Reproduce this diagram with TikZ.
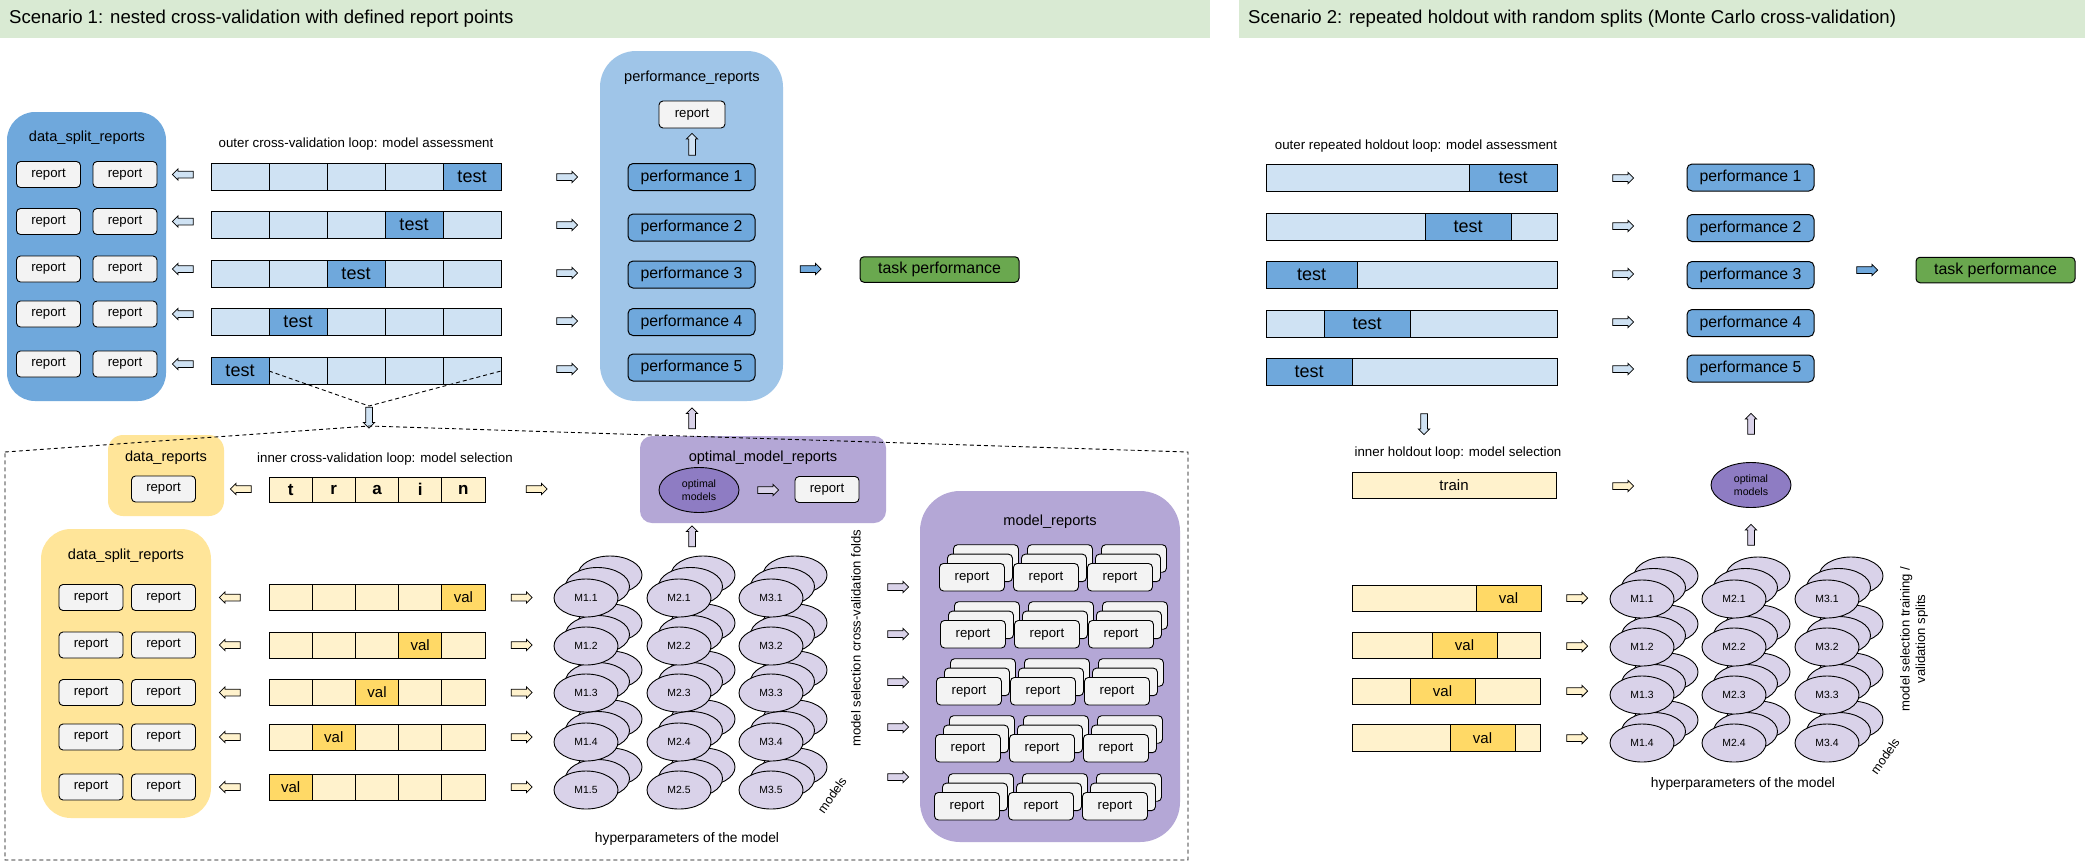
\documentclass[tikz,border=0pt]{standalone}
\usepackage{fontspec}
\setmainfont{Liberation Sans}
\usetikzlibrary{shapes.geometric,shapes.arrows}
\definecolor{hdr}{HTML}{D9EAD3}
\definecolor{bluedk}{HTML}{6FA8DC}
\definecolor{bluemd}{HTML}{9FC5E8}
\definecolor{bluelt}{HTML}{CFE2F3}
\definecolor{grn}{HTML}{6AA84F}
\definecolor{ylw}{HTML}{FFE599}
\definecolor{ylwlt}{HTML}{FFF2CC}
\definecolor{ylwdk}{HTML}{FFD966}
\definecolor{purp}{HTML}{B4A7D6}
\definecolor{purpdk}{HTML}{8E7CC3}
\definecolor{purplt}{HTML}{D9D2E9}
\definecolor{repgray}{HTML}{F3F3F3}
\tikzset{
  fs/.style={font={\fontsize{#1}{#1}\selectfont}},
  cont/.style={inner sep=0pt, outer sep=0pt},
  ttl/.style={fs=14.6, inner sep=0pt},
  lbl/.style={fs=13.3, inner sep=0pt},
  rep/.style={draw=black, line width=0.9pt, rounded corners=4pt, fill=repgray, minimum width=64pt, minimum height=26pt, inner sep=0pt, fs=13.2},
  mrep/.style={rep, minimum width=65pt, minimum height=27.5pt, anchor=north west},
  ocell/.style={draw=black, line width=1pt, fill=bluelt, minimum height=27pt, inner sep=0pt, outer sep=0pt, anchor=north west},
  icell/.style={ocell, fill=ylwlt, minimum height=26.5pt},
  perf/.style={draw=black, line width=1pt, rounded corners=5pt, fill=bluedk, minimum width=127pt, minimum height=27pt, inner sep=0pt, fs=15.8},
  task/.style={draw=black, line width=1pt, rounded corners=4pt, fill=grn, minimum width=159pt, minimum height=25.5pt, inner sep=0pt, fs=15.9},
  mell/.style={ellipse, draw=black, line width=0.9pt, fill=purplt, minimum width=64pt, minimum height=38pt, inner sep=0pt, fs=10.4},
  oell/.style={ellipse, draw=black, line width=0.9pt, fill=purpdk, minimum width=80pt, minimum height=45pt, inner sep=0pt, align=center, font={\fontsize{10.6}{13}\selectfont}},
  blk/.style={single arrow, draw=black, line width=0.75pt, inner xsep=0pt, inner ysep=3pt, outer sep=0pt, single arrow head extend=2.4pt, minimum height=21pt, minimum width=0pt},
  rgt/.style={blk},
  lft/.style={blk, rotate=180},
  upa/.style={blk, rotate=90},
  dna/.style={blk, rotate=-90},
  dsh/.style={dash pattern=on 4pt off 3pt, line width=0.9pt},
}
\begin{document}
\begin{tikzpicture}[x=1pt,y=-1pt]
\useasboundingbox (0,0) rectangle (2085,863);
\fill[white] (0,0) rectangle (2085,863);
% ---------- headers
\node[cont, fill=hdr, minimum width=1210pt, minimum height=38pt, anchor=north west] (hdrA) at (0,0) {};
\node[fs=18.6, anchor=west, inner sep=0pt] (hdrAt) at (9,19) {Scenario 1: nested cross-validation with defined report points};
\node[cont, fill=hdr, minimum width=846pt, minimum height=38pt, anchor=north west] (hdrB) at (1239,0) {};
\node[fs=18.6, anchor=west, inner sep=0pt] (hdrBt) at (1248,19) {Scenario 2: repeated holdout with random splits (Monte Carlo cross-validation)};
% ---------- scenario 1 containers
\node[cont, fill=bluedk, rounded corners=28pt, minimum width=159pt, minimum height=289pt] (dsrA) at (86.5,256.5) {};
\node[ttl] (dsrAt) at (87,138) {data\_split\_reports};
\node[cont, fill=bluemd, rounded corners=36pt, minimum width=183pt, minimum height=350pt] (prA) at (691.5,226) {};
\node[ttl] (prAt) at (692,78) {performance\_reports};
\node[cont, fill=ylw, rounded corners=15pt, minimum width=116pt, minimum height=81pt] (drA) at (166,475.5) {};
\node[ttl] (drAt) at (166,458) {data\_reports};
\node[cont, fill=ylw, rounded corners=30pt, minimum width=170pt, minimum height=289pt] (dsrB) at (126,673.5) {};
\node[ttl] (dsrBt) at (126,556) {data\_split\_reports};
\node[cont, fill=purp, rounded corners=12pt, minimum width=246pt, minimum height=87pt] (omr) at (763,479.5) {};
\node[ttl] (omrt) at (763,458) {optimal\_model\_reports};
\node[cont, fill=purp, rounded corners=40pt, minimum width=260pt, minimum height=351pt] (mrA) at (1050,666.5) {};
\node[ttl] (mrAt) at (1050,522) {model\_reports};
% ---------- outer loop scenario 1
\node[lbl] (outlblA) at (356,144) {outer cross-validation loop: model assessment};
\foreach \i/\cy in {1/174.5,2/221.5,3/269,4/314,5/364}{
  \node[rep] (bl\i) at (48.5,\cy) {report};
  \node[rep] (br\i) at (125,\cy) {report};
  \node[lft, fill=bluelt] (al\i) at (184.5,\cy) {};
}
\foreach \r/\top/\tc in {1/163/5,2/211.5/4,3/260/3,4/308.5/2,5/357.5/1}{
  \foreach \c in {1,...,5}{
    \ifnum\c=\tc\relax
      \node[ocell, fill=bluedk, minimum width=58pt, fs=18] (o\r-\c) at ({211+58*(\c-1)},\top) {test};
    \else
      \node[ocell, minimum width=58pt] (o\r-\c) at ({211+58*(\c-1)},\top) {};
    \fi
  }
}
\foreach \i/\cy in {1/177,2/225,3/273,4/321,5/369}{
  \node[rgt, fill=bluelt] (ar\i) at (565.5,\cy) {};
}
\node[rep, minimum width=66pt, minimum height=27pt] (prrep) at (692,114.5) {report};
\node[upa, fill=bluelt, minimum height=22pt] (aup1) at (692,146) {};
\foreach \i/\cy in {1/177,2/227.5,3/274.5,4/322,5/367.5}{
  \node[perf] (p\i) at (691.5,\cy) {performance \i};
}
\node[rgt, fill=bluedk] (atask) at (809,269) {};
\node[task] (tp) at (939.5,269.5) {task performance};
% ---------- inner loop scenario 1
\node[lbl] (innerlbl) at (385,459) {inner cross-validation loop: model selection};
\node[rep] (drrep) at (163.5,489) {report};
\node[lft, fill=ylwlt] (atl) at (242.5,489) {};
\foreach \c/\ch in {1/t,2/r,3/a,4/i,5/n}{
  \node[icell, minimum width=43.2pt, minimum height=25.5pt, font={\fontsize{17}{17}\selectfont\bfseries}] (tr\c) at ({269+43.2*(\c-1)},477) {\ch};
}
\node[rgt, fill=ylwlt] (atr) at (535,489) {};
\foreach \r/\top/\vc/\cy in {1/584/5/597.5,2/632/4/645,3/679/3/692.5,4/724/2/737,5/774/1/787}{
  \node[rep] (yl\r) at (91,\cy) {report};
  \node[rep] (yr\r) at (163.5,\cy) {report};
  \node[lft, fill=ylwlt] (ayl\r) at (231.5,\cy) {};
  \foreach \c in {1,...,5}{
    \ifnum\c=\vc\relax
      \node[icell, fill=ylwdk, minimum width=43.2pt, fs=15] (v\r-\c) at ({269+43.2*(\c-1)},\top) {val};
    \else
      \node[icell, minimum width=43.2pt] (v\r-\c) at ({269+43.2*(\c-1)},\top) {};
    \fi
  }
  \node[rgt, fill=ylwlt] (ayr\r) at (520,\cy) {};
}
% models scenario 1
\foreach \c/\cx in {1/586,2/679,3/771}{
  \foreach \r/\cy in {5/790,4/742,3/693,2/646,1/598}{
    \node[mell] (m\c-\r-c) at (\cx+24,\cy-23) {};
    \node[mell] (m\c-\r-b) at (\cx+11.5,\cy-11.5) {};
    \node[mell] (m\c-\r) at (\cx,\cy) {M\c.\r};
  }
}
\node[oell] (opt) at (699,490) {optimal\\models};
\node[rgt, fill=purplt] (aopt) at (766.5,490) {};
\node[rep] (omrep) at (827,489.5) {report};
\node[upa, fill=purplt] (aup2) at (692,420) {};
\node[upa, fill=purplt] (aup3) at (692,538) {};
\node[fs=13.1, rotate=90, inner sep=0pt] (msf) at (856,638) {model selection cross-validation folds};
\node[fs=12.5, rotate=55, inner sep=0pt] (mdl1) at (832,795) {models};
\node[fs=13.8, inner sep=0pt] (hyp1) at (687,839) {hyperparameters of the model};
\foreach \i/\cy in {1/587,2/634,3/682,4/727,5/777}{
  \node[rgt, fill=purplt] (amr\i) at (896.5,\cy) {};
}
\foreach \r/\rx/\ry in {1/939/563,2/940/620,3/936/677,4/935/734,5/934/792}{
  \foreach \c in {0,1,2}{
    \node[mrep] (mr\r-\c-c) at (\rx+74*\c+14,\ry-18.7) {};
    \node[mrep] (mr\r-\c-b) at (\rx+74*\c+8,\ry-9.3) {};
    \node[mrep] (mr\r-\c) at (\rx+74*\c,\ry) {report};
  }
}
% dashed frame of the inner loop
\coordinate (apex) at (369,406);
\coordinate (dtop) at (369,426);
\draw[dsh] (o5-1.east) -- (apex) -- (o5-5.east);
\node[dna, fill=bluelt] (adn) at (369,416) {};
\draw[dsh] (5,452) -- (dtop) -- (1188,452) -- (1188,860) -- (5,860) -- cycle;
% ---------- scenario 2
\node[lbl] (outlblB) at (1416,146) {outer repeated holdout loop: model assessment};
\foreach \r/\top/\a/\w in {1/164/1469/88,2/213/1425/86,3/261.5/1266/91,4/310/1324/86,5/358.5/1266/86}{
  \node[ocell, minimum width=291pt] (q\r) at (1266,\top) {};
  \node[ocell, fill=bluedk, minimum width=\w pt, fs=18] (q\r t) at (\a,\top) {test};
}
\foreach \i/\cy in {1/178,2/226,3/274,4/322,5/369}{
  \node[rgt, fill=bluelt] (br\i B) at (1621.5,\cy) {};
}
\foreach \i/\cy in {1/177.5,2/228,3/275,4/323,5/368.5}{
  \node[perf] (pB\i) at (1750.5,\cy) {performance \i};
}
\node[rgt, fill=bluedk] (ataskB) at (1865.5,270) {};
\node[task] (tpB) at (1995.5,270) {task performance};
\node[dna, fill=bluelt] (adnB) at (1424,422.5) {};
\node[lbl] (inlblB) at (1458,453) {inner holdout loop: model selection};
\node[icell, minimum width=204pt, minimum height=26pt, fs=15] (trB) at (1352,472) {train};
\node[rgt, fill=ylwlt] (atrB) at (1621.5,486) {};
\node[oell] (optB) at (1751,485) {optimal\\models};
\node[upa, fill=purplt] (aupB1) at (1751,425.5) {};
\node[upa, fill=purplt] (aupB2) at (1751,536.5) {};
\foreach \r/\top/\a/\cy in {1/585/1476/598,2/632/1432/646,3/678/1410/691,4/724.5/1450/738}{
  \node[icell, minimum width=188pt] (w\r) at (1352,\top) {};
  \node[icell, fill=ylwdk, minimum width=65pt, fs=15] (w\r v) at (\a,\top) {val};
  \node[rgt, fill=ylwlt] (awB\r) at (1575.5,\cy) {};
}
\foreach \c/\cx in {1/1642,2/1734,3/1827}{
  \foreach \r/\cy in {4/743,3/695,2/647,1/599}{
    \node[mell] (n\c-\r-c) at (\cx+24,\cy-23) {};
    \node[mell] (n\c-\r-b) at (\cx+11.5,\cy-11.5) {};
    \node[mell] (n\c-\r) at (\cx,\cy) {M\c.\r};
  }
}
\node[rotate=90, align=center, font={\fontsize{13.1}{15.5}\selectfont}, inner sep=0pt] (mstv) at (1914,639) {model selection training /\\validation splits};
\node[fs=12.5, rotate=55, inner sep=0pt] (mdl2) at (1885,756) {models};
\node[fs=13.8, inner sep=0pt] (hyp2) at (1743,784) {hyperparameters of the model};
\end{tikzpicture}
\end{document}
